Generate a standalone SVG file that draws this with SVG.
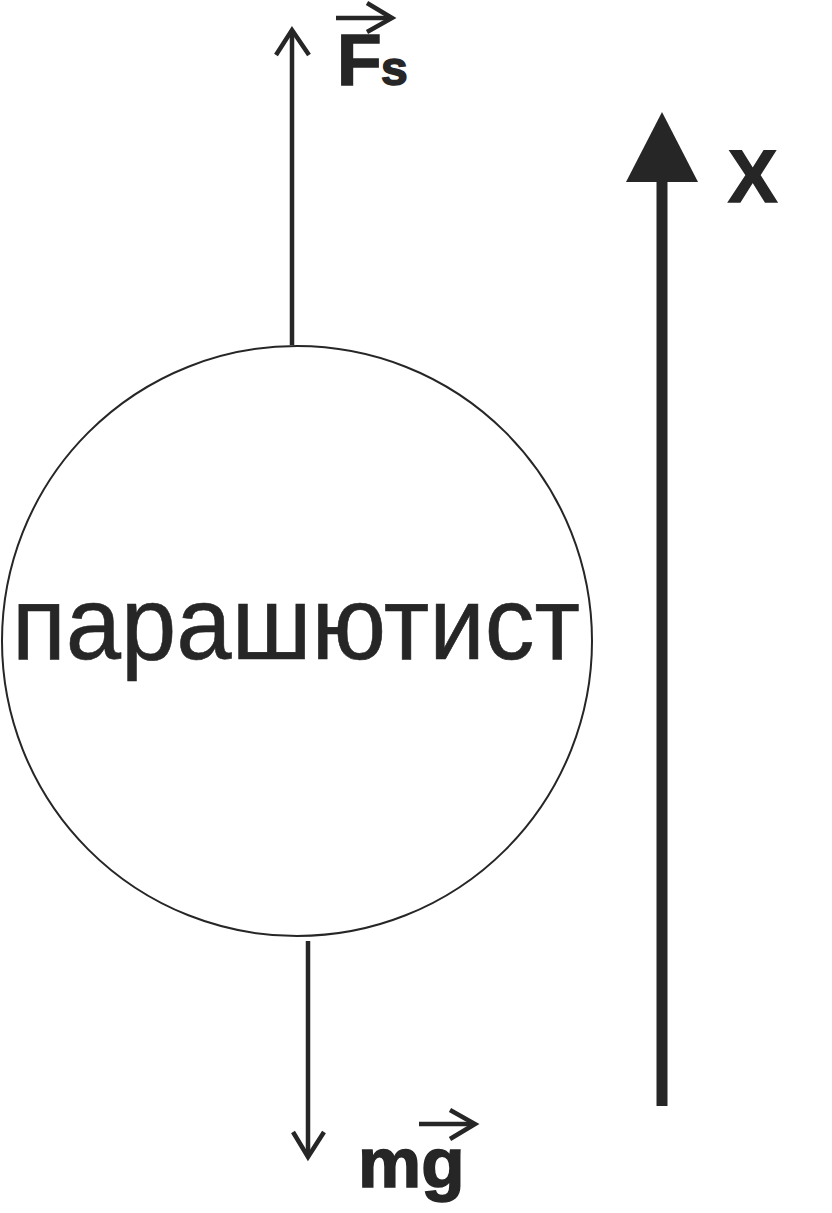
<svg xmlns="http://www.w3.org/2000/svg" width="832" height="1213" viewBox="0 0 832 1213">
<style>
.ln{stroke:#262626;fill:none;stroke-linecap:butt;stroke-linejoin:miter}
.lbl{font-family:"Liberation Sans",Arial,sans-serif;font-weight:bold;fill:#262626;stroke:#262626;stroke-width:1.6}
</style>
<rect width="832" height="1213" fill="#fff"/>
<g id="body">
<circle cx="297" cy="641" r="295" fill="none" stroke="#262626" stroke-width="2"/>
<text x="12" y="659" font-family="'Liberation Sans',Arial,sans-serif" font-size="104" fill="#262626" stroke="#262626" stroke-width="0.6" textLength="568" lengthAdjust="spacingAndGlyphs">парашютист</text>
</g>
<g id="connectors">
<g id="force-Fs">
<line class="ln" x1="292" y1="345" x2="292" y2="31" stroke-width="4.5"/>
<polyline class="ln" points="276,55 292,30 309,55" stroke-width="4.5"/>
</g>
<g id="force-mg">
<line class="ln" x1="308" y1="941" x2="308" y2="1156" stroke-width="4.5"/>
<polyline class="ln" points="293,1132 308,1157 324,1132" stroke-width="4.5"/>
</g>
<g id="axis-x">
<line class="ln" x1="662" y1="1106" x2="662" y2="180" stroke-width="11"/>
<polygon points="662,112 626,182 698,182" fill="#262626"/>
</g>
</g>
<g id="label-Fs">
<text class="lbl" x="337" y="85" font-size="73">F</text>
<text class="lbl" x="381" y="85" font-size="48">s</text>
<line class="ln" x1="336" y1="18" x2="391" y2="18" stroke-width="4.5"/>
<polyline class="ln" points="367,3 392,18 367,32" stroke-width="4.5"/>
</g>
<g id="label-mg">
<text class="lbl" x="358" y="1187" font-size="71">mg</text>
<line class="ln" x1="419" y1="1124" x2="474" y2="1124" stroke-width="4.5"/>
<polyline class="ln" points="450,1110 475,1124 450,1139" stroke-width="4.5"/>
</g>
<g id="label-X">
<text class="lbl" x="728" y="202" font-size="74">X</text>
</g>
</svg>
